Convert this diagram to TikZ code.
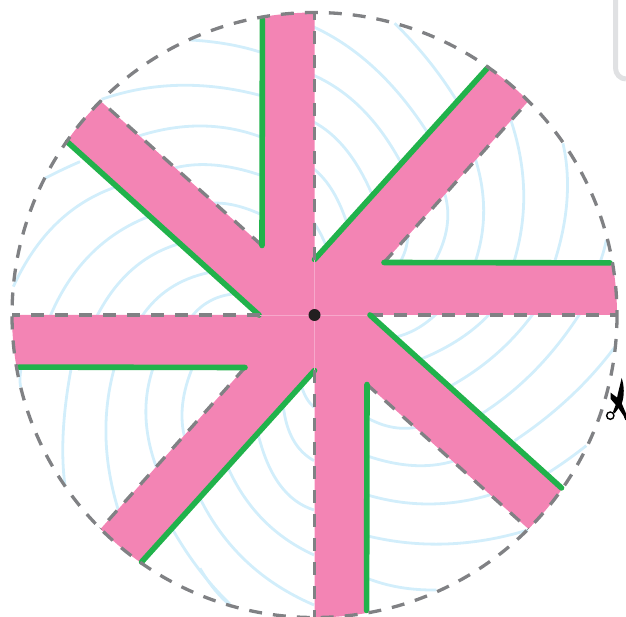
\documentclass[tikz,border=0pt]{standalone}
\usetikzlibrary{calc}
\definecolor{bladepink}{HTML}{F384B4}
\definecolor{seampink}{HTML}{F7A8CB}
\definecolor{foldgreen}{HTML}{21B24B}
\definecolor{cutgrey}{HTML}{808184}
\definecolor{lineblue}{HTML}{D2EEFB}
\definecolor{framegrey}{HTML}{E0E1E3}
\definecolor{inkblack}{HTML}{231F20}
\tikzset{
  bluecurve/.style={draw=lineblue,line width=2.8pt},
  cutline/.style={draw=cutgrey,line width=3.3pt,dash pattern=on 13pt off 11pt},
  foldline/.style={draw=foldgreen,line width=5.6pt,line cap=round},
  zoomNW/.style={shift={(0,0)},x=0.3333pt,y=-0.3333pt},
  zoomNE/.style={shift={(313,0)},x=0.3333pt,y=-0.3333pt},
  zoomSW/.style={shift={(0,304)},x=0.3333pt,y=-0.3333pt},
  zoomSE/.style={shift={(313,304)},x=0.3333pt,y=-0.3333pt},
  zoomW/.style={shift={(0,170)},x=0.3333pt,y=-0.3333pt},
  zoomS/.style={shift={(200,370)},x=0.3333pt,y=-0.3333pt},
}
% curve through start, middle and end point
\newcommand{\bc}[3]{\draw[bluecurve] (#1) .. controls ($1.3333*(#2)-0.3333*(#3)$) and ($1.3333*(#2)-0.3333*(#1)$) .. (#3);}
\begin{document}
\begin{tikzpicture}[x=1pt,y=-1pt]
\useasboundingbox (0,0) rectangle (626,617);
\clip (0,0) rectangle (626,617);
% frame corner
\draw[framegrey,line width=5pt] (615.5,0) -- (615.5,68) arc[start angle=180,end angle=90,x radius=10.5pt,y radius=-11pt];
% blue curves: NE
\begin{scope}[zoomNE]
\bc{245,70}{345,180}{430,300}
\bc{0,80}{185,205}{345,400}
\bc{0,225}{145,325}{262,485}
\bc{0,365}{100,450}{180,590}
\bc{0,505}{60,575}{105,680}
\bc{0,665}{22,700}{40,740}
\bc{750,430}{762,600}{725,785}
\bc{590,350}{632,570}{603,785}
\bc{485,470}{512,630}{487,785}
\bc{395,580}{402,680}{365,785}
\bc{285,690}{280,740}{262,785}
\bc{880,720}{873,750}{862,785}
\end{scope}
% NW
\begin{scope}[zoomNW]
\bc{570,120}{680,132}{780,156}
\bc{305,298}{535,256}{780,286}
\bc{410,410}{600,378}{780,410}
\bc{520,505}{640,495}{780,525}
\bc{630,610}{700,615}{780,642}
\end{scope}
\begin{scope}[zoomW]
\bc{135,25}{185,0}{240,-25}
\bc{40,350}{170,160}{350,50}
\bc{150,440}{270,255}{445,140}
\bc{290,440}{395,300}{535,222}
\bc{425,440}{510,355}{625,308}
\bc{575,440}{630,393}{700,372}
\end{scope}
% SW
\begin{scope}[zoomSW]
\bc{65,185}{60,220}{62,250}
\bc{215,185}{190,380}{195,545}
\bc{345,185}{318,400}{357,625}
\bc{462,185}{438,340}{475,505}
\bc{580,185}{548,300}{555,405}
\bc{520,680}{600,800}{690,900}
\end{scope}
\begin{scope}[zoomS]
\bc{305,50}{320,85}{342,112}
\bc{250,110}{280,210}{342,272}
\bc{175,195}{240,345}{342,420}
\bc{85,295}{190,450}{342,555}
\bc{0,385}{140,575}{342,705}
\bc{0,595}{45,660}{95,710}
\end{scope}
% SE
\begin{scope}[zoomSE]
\bc{160,340}{240,370}{320,368}
\bc{160,455}{310,485}{440,465}
\bc{160,572}{350,600}{540,570}
\bc{160,695}{400,720}{645,678}
\bc{160,822}{260,850}{370,858}
\bc{245,100}{310,75}{370,30}
\bc{325,165}{440,105}{530,30}
\bc{415,245}{550,150}{660,30}
\bc{505,330}{665,200}{800,30}
\bc{605,410}{770,280}{905,130}
\bc{700,510}{760,470}{820,425}
\end{scope}
% blades
\foreach \a in {0,90,180,270}{
\begin{scope}[shift={(314.5,315)},x=1pt,y=1pt,rotate=\a]
\fill[bladepink] (0,0) -- (0,55.5) -- (55:302.5) arc[start angle=55,end angle=45,radius=302.5pt]
  -- (69.5,52.5) -- (10:302.5) arc[start angle=10,end angle=0,radius=302.5pt] -- cycle;
\end{scope}}
\foreach \a in {0,90,180,270}{
\begin{scope}[shift={(314.5,315)},x=1pt,y=1pt,rotate=\a]
\draw[seampink,line width=0.7pt] (0,0) -- (55,0);
\draw[cutline] (55,0) -- (302.5,0);
\draw[cutline] (69.5,52.5) -- (45:302.5);
\draw[foldline] (0,55.5) -- (55:301.5);
\draw[foldline] (69.5,52.5) -- (10:300);
\end{scope}}
% outer cut circle
\coordinate (hub) at (314.5,315);
\draw[cutline] (hub) ++(302.5,0) arc[start angle=0,end angle=360,x radius=302.5pt,y radius=-302.5pt];
\fill[inkblack] (hub) circle[radius=6pt];
% scissors
\begin{scope}[zoomSE]
\fill[black] (926,222) .. controls (934,245) and (935,275) .. (926,300) -- (905,328) -- (900,324) -- (910,298) .. controls (912,275) and (920,250) .. cycle;
\fill[black] (893,266) -- (922,288) -- (946,345) -- (938,345) -- (915,310) -- (893,285) -- cycle;
\draw[black,line width=1.4pt] (892,335) circle[radius=11];
\draw[black,line width=1.4pt] (946,338) circle[radius=11];
\end{scope}
\end{tikzpicture}
\end{document}
